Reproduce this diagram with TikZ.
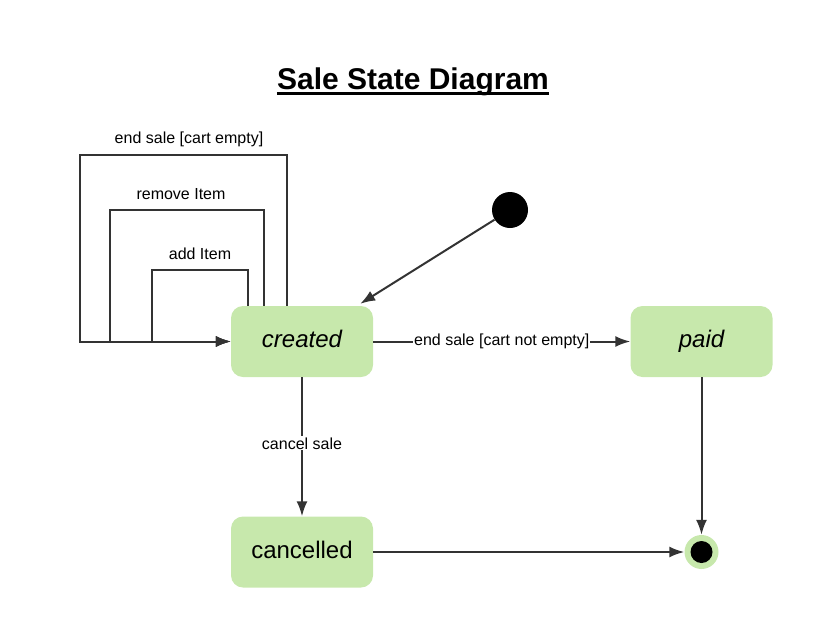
\documentclass[tikz,border=0pt]{standalone}
\usepackage{fontspec}
\setmainfont{Liberation Sans}
\usetikzlibrary{arrows.meta,calc}
\definecolor{stgreen}{HTML}{C7E8AC}
\definecolor{ln}{HTML}{333333}
\begin{document}
\begin{tikzpicture}[x=1pt,y=-1pt,
  state/.style={draw=none,fill=stgreen,rounded corners=12pt,minimum width=142pt,minimum height=71pt,inner sep=0pt,text height=17pt,text depth=5pt,font=\fontsize{24}{28}\selectfont},
  conn/.style={draw=ln,line width=2pt,-{Latex[length=15pt,width=11pt]}},
  lbl/.style={font=\fontsize{16}{19}\selectfont,inner sep=1pt,fill=white}]
\useasboundingbox (0,0) rectangle (826,624);
% title
\node[inner sep=0pt,anchor=base,font=\fontsize{30}{36}\selectfont\bfseries] (title) at (413,89) {Sale State Diagram};
\draw[line width=2.6pt] ([yshift=-4.5pt]title.base west) -- ([yshift=-4.5pt]title.base east);
% states
\node[state] (created) at (302,341.5) {\itshape created};
\node[state] (paid) at (701.5,341.5) {\itshape paid};
\node[state] (cancelled) at (302,552) {cancelled};
\node[circle,fill=black,minimum size=36pt,inner sep=0pt] (init) at (510,210) {};
\node[circle,fill=stgreen,minimum size=34pt,inner sep=0pt] (final) at (701.5,552) {};
\node[circle,fill=black,minimum size=22pt,inner sep=0pt] (finaldot) at (final.center) {};
% self loops
\draw[conn] ([xshift=-15pt]created.north) -- ++(0,-151) -| (80,341.5) -- (created.west);
\draw[conn] ([xshift=-38pt]created.north) -- ++(0,-96) -| (110,341.5) -- (created.west);
\draw[conn] ([xshift=-54pt]created.north) -- ++(0,-36) -| (152,341.5) -- (created.west);
\node[lbl,fill=none] (l1) at (189,139) {end sale [cart empty]};
\node[lbl,fill=none] (l2) at (181,194) {remove Item};
\node[lbl,fill=none] (l3) at (200,254) {add Item};
% transitions
\draw[conn] (init) -- ([xshift=-13pt,yshift=2pt]created.north east);
\draw[conn] (created) -- node[lbl,pos=0.5] {end sale [cart not empty]} (paid);
\draw[conn] (created) -- node[lbl,pos=0.475] {cancel sale} (cancelled);
\draw[conn] (cancelled) -- (final);
\draw[conn] (paid) -- (final);
\end{tikzpicture}
\end{document}
